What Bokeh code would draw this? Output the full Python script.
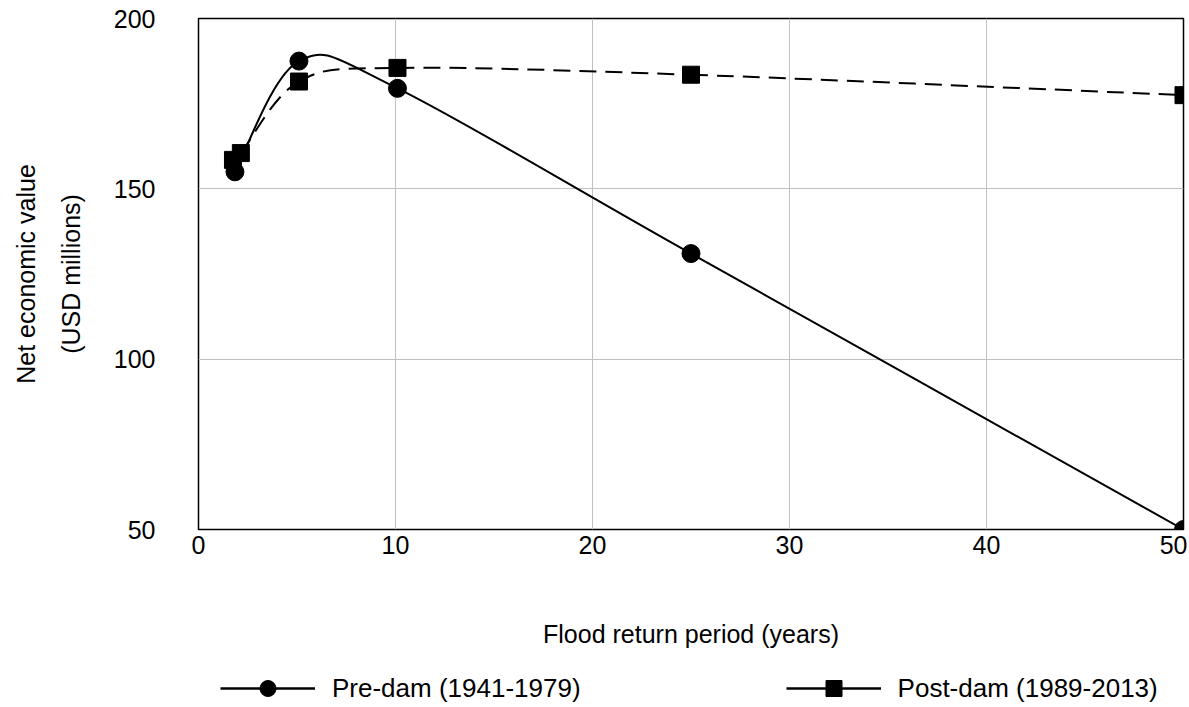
from bokeh.plotting import figure
from bokeh.layouts import column
from bokeh.models import Range1d, LinearAxis, Legend, LegendItem, FixedTicker, ColumnDataSource
from bokeh.embed import file_html
from bokeh.resources import INLINE

# ---- data ----
pre_x = [1.85, 5.1, 10.1, 25.0, 50.0]
pre_y = [155.0, 187.5, 179.5, 131.0, 50.0]
post_x = [1.75, 2.15, 5.1, 10.1, 25.0, 50.0]
post_y = [158.5, 160.5, 181.5, 185.5, 183.5, 177.5]
x_ticks = [0, 10, 20, 30, 40, 50]
y_ticks = [50, 100, 150, 200]
series_labels = ["Pre-dam (1941-1979)", "Post-dam (1989-2013)"]
x_title = "Flood return period (years)"
y_title_1 = "Net economic value"
y_title_2 = "(USD millions)"

FONT = "Liberation Sans"
FS = "25px"
W = 1187


def smooth_segments(xs, ys):
    """Bezier control points (Excel-like smoothing, tension 1/6)."""
    P = list(zip(xs, ys))
    n = len(P)
    d = {k: [] for k in ["x0", "y0", "x1", "y1", "cx0", "cy0", "cx1", "cy1"]}
    for i in range(n - 1):
        p0 = P[i - 1] if i > 0 else P[i]
        p1 = P[i]
        p2 = P[i + 1]
        p3 = P[i + 2] if i + 2 < n else P[i + 1]
        d["x0"].append(p1[0]); d["y0"].append(p1[1])
        d["x1"].append(p2[0]); d["y1"].append(p2[1])
        d["cx0"].append(p1[0] + (p2[0] - p0[0]) / 6.0)
        d["cy0"].append(p1[1] + (p2[1] - p0[1]) / 6.0)
        d["cx1"].append(p2[0] - (p3[0] - p1[0]) / 6.0)
        d["cy1"].append(p2[1] - (p3[1] - p1[1]) / 6.0)
    return ColumnDataSource(d)


p = figure(
    width=W, height=650,
    x_range=Range1d(0, 50), y_range=Range1d(50, 200),
    output_backend="svg", toolbar_location=None,
    min_border_left=198, min_border_top=18, min_border_right=4, min_border_bottom=120,
    background_fill_color="white", border_fill_color="white",
)

p.outline_line_color = "black"
p.outline_line_width = 1.5

# grid
p.xgrid.ticker = FixedTicker(ticks=x_ticks)
p.ygrid.ticker = FixedTicker(ticks=y_ticks)
p.grid.grid_line_color = "#c0c0c0"
p.grid.grid_line_width = 1

# axes
for ax in (p.xaxis[0], p.yaxis[0]):
    ax.axis_line_color = None
    ax.major_tick_line_color = None
    ax.minor_tick_line_color = None
    ax.major_tick_out = 0
    ax.major_tick_in = 0
    ax.major_label_text_font = FONT
    ax.major_label_text_font_size = FS
    ax.major_label_text_color = "black"
    ax.axis_label_text_font = FONT
    ax.axis_label_text_font_size = FS
    ax.axis_label_text_font_style = "normal"
    ax.axis_label_text_color = "black"

p.xaxis[0].ticker = FixedTicker(ticks=x_ticks)
p.yaxis[0].ticker = FixedTicker(ticks=y_ticks)
p.xaxis[0].axis_label = x_title
p.xaxis[0].major_label_standoff = 6
p.xaxis[0].axis_label_standoff = 63
p.yaxis[0].axis_label = y_title_2
p.yaxis[0].major_label_standoff = 43
p.yaxis[0].axis_label_standoff = 26

outer = LinearAxis(
    axis_label=y_title_1, ticker=FixedTicker(ticks=[]),
    axis_line_color=None, major_tick_line_color=None, minor_tick_line_color=None,
    major_tick_out=0, major_tick_in=0, major_label_text_font_size="0px",
    axis_label_text_font=FONT, axis_label_text_font_size=FS,
    axis_label_text_font_style="normal", axis_label_text_color="black",
    axis_label_standoff=14,
)
p.add_layout(outer, "left")

# smoothed lines
src_pre = smooth_segments(pre_x, pre_y)
src_post = smooth_segments(post_x, post_y)
p.bezier(x0="x0", y0="y0", x1="x1", y1="y1", cx0="cx0", cy0="cy0", cx1="cx1", cy1="cy1",
         source=src_pre, line_color="black", line_width=2)
p.bezier(x0="x0", y0="y0", x1="x1", y1="y1", cx0="cx0", cy0="cy0", cx1="cx1", cy1="cy1",
         source=src_post, line_color="black", line_width=2, line_dash="17 9")

# markers
p.scatter(post_x, post_y, marker="square", size=17, fill_color="black", line_color="black")
p.scatter(pre_x, pre_y, marker="circle", size=18, fill_color="black", line_color="black")

# ---- legend strip below the chart ----
lp = figure(
    width=W, height=57, x_range=Range1d(0, 1), y_range=Range1d(0, 1),
    x_axis_type=None, y_axis_type=None,
    output_backend="svg", toolbar_location=None,
    min_border_left=0, min_border_right=0, min_border_top=0, min_border_bottom=0,
    outline_line_color=None, background_fill_color="white", border_fill_color="white",
)
nan = float("nan")
k_line_a = lp.line([nan], [nan], line_color="black", line_width=2.5)
k_mark_a = lp.scatter([nan], [nan], marker="circle", fill_color="black", line_color="black")
k_line_b = lp.line([nan], [nan], line_color="black", line_width=2.5)
k_mark_b = lp.scatter([nan], [nan], marker="square", fill_color="black", line_color="black")

legend = Legend(
    items=[LegendItem(label=series_labels[0], renderers=[k_line_a, k_mark_a]),
           LegendItem(label=series_labels[1], renderers=[k_line_b, k_mark_b])],
    orientation="horizontal", location=(22, -1),
    label_text_font=FONT, label_text_font_size="26px", label_text_color="black",
    glyph_width=95, glyph_height=40, label_standoff=17, spacing=205,
    padding=0, margin=0, border_line_color=None, background_fill_alpha=0,
)
lp.add_layout(legend, "center")

layout = column(p, lp, spacing=0)
open("out.html", "w").write(file_html(layout, INLINE))
